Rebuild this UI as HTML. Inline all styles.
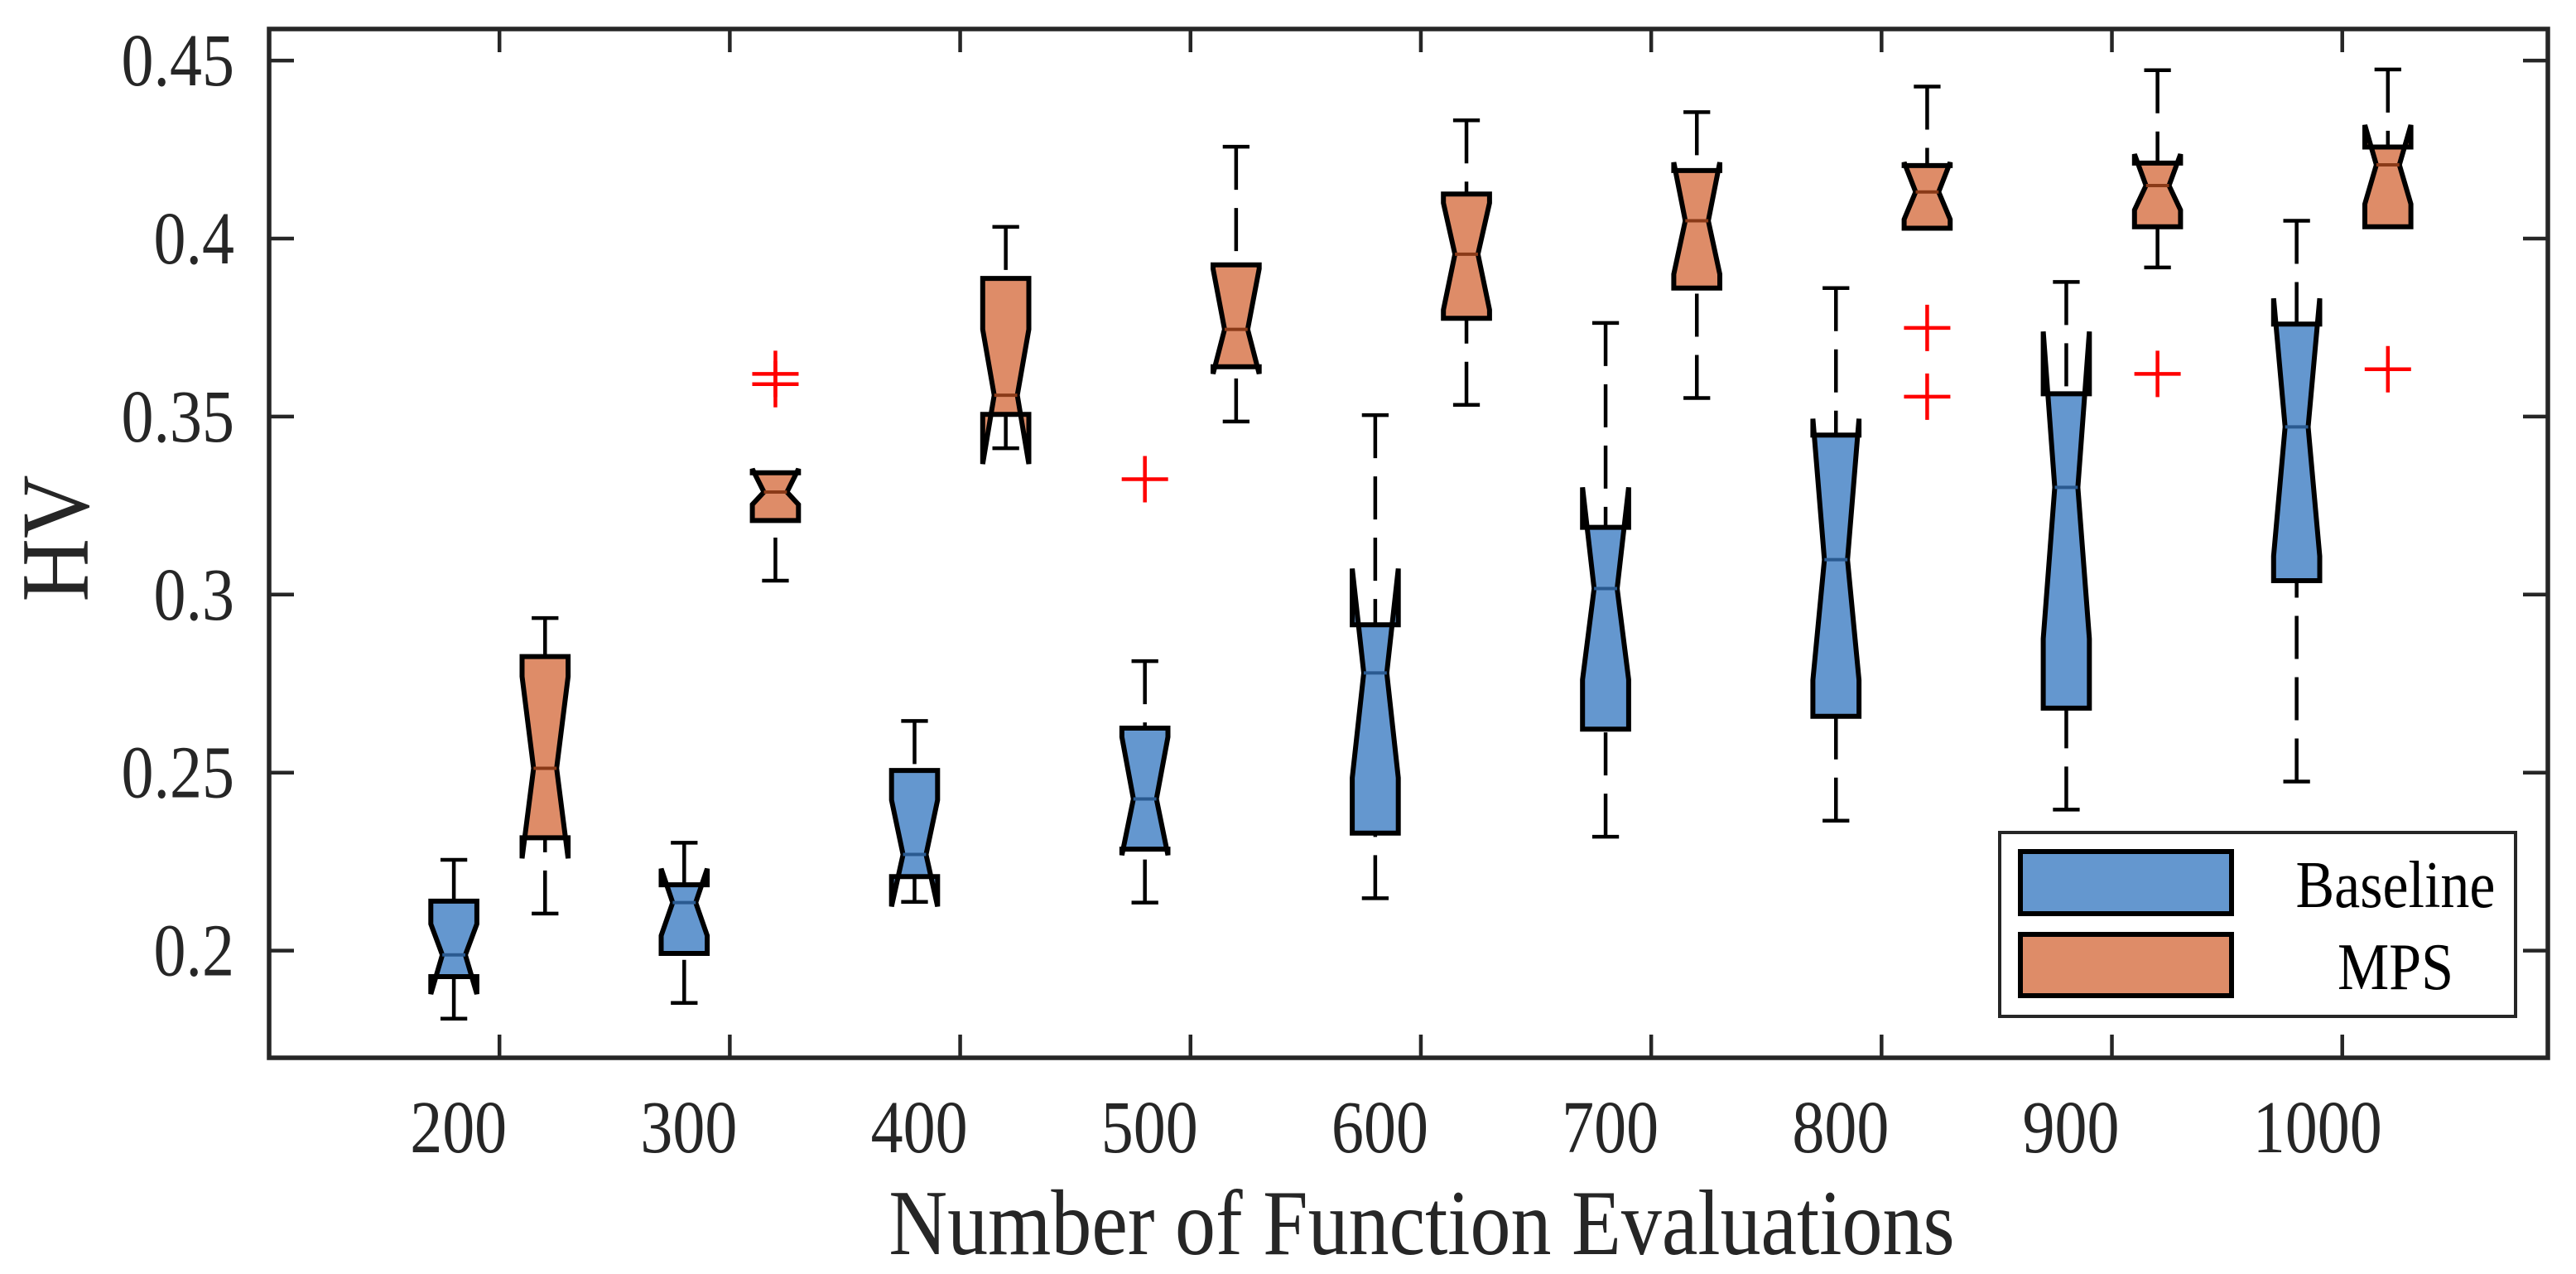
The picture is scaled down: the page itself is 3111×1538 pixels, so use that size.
<!DOCTYPE html>
<html><head><meta charset="utf-8">
<style>
html,body{margin:0;padding:0;background:#fff;}
svg{display:block;font-family:"Liberation Serif","Times New Roman",serif;}
</style></head>
<body>
<svg id="chart" width="3111" height="1538" viewBox="0 0 3111 1538" xmlns="http://www.w3.org/2000/svg">
<rect x="0" y="0" width="3111" height="1538" fill="#fff"/>
<g id="marks"></g>
<g id="axes"></g>
<text x="0" y="0" font-size="106" fill="#262626" text-anchor="middle" dominant-baseline="central" transform="translate(68 650) rotate(-90) scale(1 1.1)">HV</text>
<text x="0" y="0" font-size="98" fill="#262626" text-anchor="middle" transform="translate(1717 1514) scale(1 1.15)">Number of Function Evaluations</text>
<g>
<rect x="2415" y="1005" width="623" height="222" fill="#fff" stroke="#262626" stroke-width="4"/>
<rect x="2440" y="1028" width="255" height="75" fill="#6497cf" stroke="#000" stroke-width="6"/>
<rect x="2440" y="1128" width="255" height="74" fill="#de8c68" stroke="#000" stroke-width="6"/>
<text x="0" y="0" font-size="70" fill="#000" text-anchor="middle" transform="translate(2893 1095) scale(1 1.15)">Baseline</text>
<text x="0" y="0" font-size="70" fill="#000" text-anchor="middle" transform="translate(2893 1194) scale(1 1.15)">MPS</text>
</g>
</svg>
<script>
const categories = [200,300,400,500,600,700,800,900,1000];
const yTicks = [0.2,0.25,0.3,0.35,0.4,0.45];
const yTickLabels = ["0.2","0.25","0.3","0.35","0.4","0.45"];
const xTickLabels = ["200","300","400","500","600","700","800","900","1000"];
// Baseline series
const baseWhiskerLow = [0.1809,0.1853,0.2137,0.2135,0.2147,0.2320,0.2365,0.2396,0.2475];
const baseQ1 =         [0.1927,0.1992,0.2208,0.2285,0.2330,0.2622,0.2658,0.2681,0.3039];
const baseNotchLow =   [0.1878,0.2042,0.2124,0.2268,0.2485,0.2761,0.2760,0.2876,0.3108];
const baseMedian =     [0.1988,0.2135,0.2270,0.2426,0.2780,0.3017,0.3098,0.3301,0.3471];
const baseNotchHigh =  [0.2075,0.2230,0.2423,0.2600,0.3073,0.3301,0.3494,0.3739,0.3832];
const baseQ3 =         [0.2139,0.2185,0.2506,0.2625,0.2915,0.3189,0.3448,0.3564,0.3760];
const baseWhiskerHigh =[0.2255,0.2303,0.2645,0.2813,0.3504,0.3763,0.3861,0.3878,0.4050];
// MPS series
const mpsWhiskerLow =  [0.2104,0.3039,0.3411,0.3486,0.3533,0.3552,0.4029,0.3919,0.4033];
const mpsQ1 =          [0.2317,0.3208,0.3506,0.3640,0.3776,0.3861,0.4029,0.4033,0.4033];
const mpsNotchLow =    [0.2259,0.3253,0.3367,0.3620,0.3800,0.3900,0.4054,0.4080,0.4097];
const mpsMedian =      [0.2512,0.3288,0.3560,0.3745,0.3956,0.4050,0.4131,0.4149,0.4207];
const mpsNotchHigh =   [0.2770,0.3353,0.3745,0.3915,0.4100,0.4214,0.4214,0.4237,0.4319];
const mpsQ3 =          [0.2826,0.3342,0.3888,0.3926,0.4125,0.4191,0.4205,0.4212,0.4257];
const mpsWhiskerHigh = [0.2934,0.3342,0.4033,0.4258,0.4332,0.4355,0.4427,0.4473,0.4475];
// Outliers
const outlierCats =   [500,300,300,800,800,900,1000];
const outlierSeries = ["baseline","mps","mps","mps","mps","mps","mps"];
const outlierValues = [0.3324,0.3620,0.3591,0.3749,0.3556,0.3620,0.3633];

const NS = "http://www.w3.org/2000/svg";
const X0 = 325, X1 = 3077, Y0 = 35, Y1 = 1277;
const xMin = 100, xMax = 200 + (X1 - 604) / 2.781;
const yMin = 0.2 - (Y1 - 1147.6) / 4298, yMax = 0.2 + (1147.6 - Y0) / 4298;
function xScale(n){ return X0 + (n - xMin) / (xMax - xMin) * (X1 - X0); }
function yScale(v){ return Y1 - (v - yMin) / (yMax - yMin) * (Y1 - Y0); }
const OFFSET = 19.8, BOXW = 20;
function mk(tag, attrs, parent){ const e = document.createElementNS(NS, tag); for (const k in attrs) e.setAttribute(k, attrs[k]); parent.appendChild(e); return e; }

const marks = document.getElementById('marks');
const axes = document.getElementById('axes');

function drawBox(i, series, wl, q1, nlo, med, nhi, q3, wh, fill, medColor){
  const cx = xScale(categories[i] + (series === 'baseline' ? -OFFSET : OFFSET));
  const half = (xScale(BOXW) - xScale(0)) / 2;
  const L = cx - half, R = cx + half, nl = cx - half/2, nr = cx + half/2;
  const g = mk('g', {}, marks);
  
  
  const capHalf = half * 0.58;
  const wu = mk('line', {x1:cx, y1:yScale(wh[i]), x2:cx, y2:yScale(q3[i]), stroke:'#000', 'stroke-width':4.5, 'stroke-dasharray':'52 22'}, g);
  
  
  const cu = mk('line', {x1:cx-capHalf, y1:yScale(wh[i]), x2:cx+capHalf, y2:yScale(wh[i]), stroke:'#000', 'stroke-width':4.5}, g);
  
  
  const wd = mk('line', {x1:cx, y1:yScale(wl[i]), x2:cx, y2:yScale(q1[i]), stroke:'#000', 'stroke-width':4.5, 'stroke-dasharray':'52 22'}, g);
  
  
  const cd = mk('line', {x1:cx-capHalf, y1:yScale(wl[i]), x2:cx+capHalf, y2:yScale(wl[i]), stroke:'#000', 'stroke-width':4.5}, g);
  
  
  const pts = [[L,q1[i]],[L,nlo[i]],[nl,med[i]],[L,nhi[i]],[L,q3[i]],[R,q3[i]],[R,nhi[i]],[nr,med[i]],[R,nlo[i]],[R,q1[i]],[L,q1[i]]]
    .map(p => p[0].toFixed(1) + ',' + yScale(p[1]).toFixed(1)).join(' ');
  const poly = mk('polygon', {points:pts, fill:fill, stroke:'#000', 'stroke-width':6, 'stroke-linejoin':'miter'}, g);
  
  
  const m = mk('line', {x1:nl, y1:yScale(med[i]), x2:nr, y2:yScale(med[i]), stroke:medColor, 'stroke-width':4}, g);
  
  
}
for (let i = 0; i < categories.length; i++){
  drawBox(i, 'baseline', baseWhiskerLow, baseQ1, baseNotchLow, baseMedian, baseNotchHigh, baseQ3, baseWhiskerHigh, '#6497cf', '#2a5a90');
  drawBox(i, 'mps', mpsWhiskerLow, mpsQ1, mpsNotchLow, mpsMedian, mpsNotchHigh, mpsQ3, mpsWhiskerHigh, '#de8c68', '#8a3a18');
}
for (let k = 0; k < outlierValues.length; k++){
  const cx = xScale(outlierCats[k] + (outlierSeries[k] === 'baseline' ? -OFFSET : OFFSET));
  const cy = yScale(outlierValues[k]);
  const p = mk('path', {d:`M${cx-28},${cy}H${cx+28}M${cx},${cy-28}V${cy+28}`, stroke:'#ff0000', 'stroke-width':4.5, fill:'none'}, marks);
  
  
}
const frame = mk('rect', {x:X0, y:Y0, width:X1-X0, height:Y1-Y0, fill:'none', stroke:'#262626', 'stroke-width':5.5}, axes);


for (let i = 0; i < yTicks.length; i++){
  const y = yScale(yTicks[i]);
  const t = mk('path', {d:`M${X0},${y}H${X0+30}M${X1},${y}H${X1-30}`, stroke:'#262626', 'stroke-width':4.5}, axes);
  
  
  const lab = mk('text', {x:0, y:0, 'font-size':78, fill:'#262626', 'text-anchor':'end', transform:`translate(283 ${y+30}) scale(1 1.15)`}, axes);
  lab.textContent = yTickLabels[i];
  
  
}
for (let i = 0; i < categories.length; i++){
  const x = xScale(categories[i]);
  const t = mk('path', {d:`M${x},${Y1}V${Y1-28}M${x},${Y0}V${Y0+28}`, stroke:'#262626', 'stroke-width':4.5}, axes);
  
  
  const lab = mk('text', {x:0, y:0, 'font-size':78, fill:'#262626', 'text-anchor':'start', transform:`translate(${x-108} 1391) scale(1 1.15)`}, axes);
  lab.textContent = xTickLabels[i];
  
  
}
</script>
</body></html>
